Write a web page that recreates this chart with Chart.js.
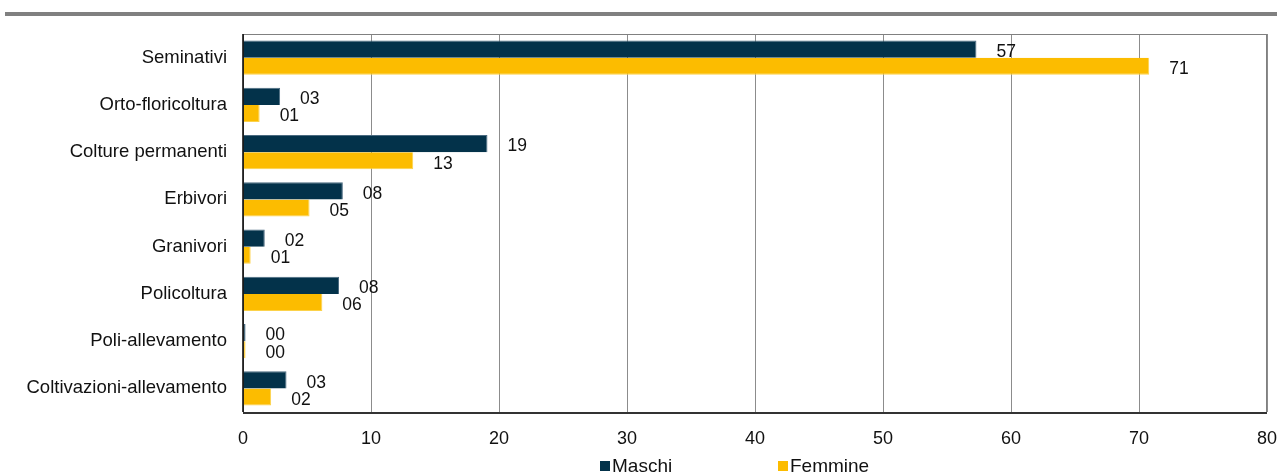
<!DOCTYPE html>
<html>
<head>
<meta charset="utf-8">
<script src="https://cdn.jsdelivr.net/npm/chart.js@4.4.1/dist/chart.umd.min.js"></script>
<style>
    html, body { margin: 0; padding: 0; background: #ffffff; }
    #wrap { position: relative; width: 1277px; height: 475px; }
    #topRule { position: absolute; left: 5px; top: 12px; width: 1272px; height: 4px; background: #808080; }
    #chartBox { position: absolute; left: 0; top: 0; width: 1277px; height: 475px; }
</style>
</head>
<body>
<div id="wrap">
    <div id="topRule"></div>
    <div id="chartBox"><canvas id="farmChart"></canvas></div>
</div>
<script>
// dati
const categories = ['Seminativi', 'Orto-floricoltura', 'Colture permanenti', 'Erbivori', 'Granivori', 'Policoltura', 'Poli-allevamento', 'Coltivazioni-allevamento'];
const maschi = [57.3, 2.9, 19.1, 7.8, 1.7, 7.5, 0.2, 3.4];
const femmine = [70.8, 1.3, 13.3, 5.2, 0.6, 6.2, 0.2, 2.2];
const xTicks = [0, 10, 20, 30, 40, 50, 60, 70, 80];

const FONT = 'Arial, "Liberation Sans", sans-serif';
const NAVY = '#03324a';
const GOLD = '#fcbc00';

// bordo grigio dell'area del grafico
const frameBorder = {
    id: 'frameBorder',
    beforeDatasetsDraw(chart) {
        const { ctx, chartArea: a } = chart;
        ctx.save();
        ctx.strokeStyle = '#808080';
        ctx.lineWidth = 1;
        ctx.strokeRect(a.left + 0.5, a.top + 0.5, a.right - a.left - 1, a.bottom - a.top);
        ctx.restore();
    },
    afterDatasetsDraw(chart) {
        const { ctx, chartArea: a } = chart;
        ctx.save();
        ctx.strokeStyle = '#000000';
        ctx.lineWidth = 1.5;
        ctx.beginPath();
        ctx.moveTo(a.left, a.top);
        ctx.lineTo(a.left, a.bottom);
        ctx.stroke();
        ctx.strokeStyle = '#333333';
        ctx.lineWidth = 2;
        ctx.beginPath();
        ctx.moveTo(a.left, a.bottom + 1);
        ctx.lineTo(a.right, a.bottom + 1);
        ctx.stroke();
        ctx.restore();
    }
};

// etichette dei valori accanto alle barre
const valueLabels = {
    id: 'valueLabels',
    afterDatasetsDraw(chart) {
        const { ctx } = chart;
        ctx.save();
        ctx.font = '17.5px ' + FONT;
        ctx.fillStyle = '#111111';
        ctx.textBaseline = 'middle';
        ctx.textAlign = 'left';
        chart.data.datasets.forEach((ds, i) => {
            chart.getDatasetMeta(i).data.forEach((bar, j) => {
                const txt = String(Math.round(ds.data[j])).padStart(2, '0');
                ctx.fillText(txt, bar.x + 20, bar.y + 3);
            });
        });
        ctx.restore();
    }
};

// legenda in basso
const bottomLegend = {
    id: 'bottomLegend',
    afterDraw(chart) {
        const { ctx } = chart;
        const items = chart.data.datasets;
        const starts = [600, 778];
        ctx.save();
        ctx.font = '19px ' + FONT;
        ctx.textBaseline = 'middle';
        const y = 466;
        items.forEach((d, i) => {
            const x = starts[i];
            ctx.fillStyle = d.backgroundColor;
            ctx.fillRect(x, y - 5, 10, 10);
            ctx.fillStyle = '#111111';
            ctx.fillText(d.label, x + 12, y + 1);
        });
        ctx.restore();
    }
};

new Chart(document.getElementById('farmChart').getContext('2d'), {
    type: 'bar',
    data: {
        labels: categories,
        datasets: [
            {
                label: 'Maschi',
                data: maschi,
                backgroundColor: NAVY,
                borderColor: '#4a6a80',
                borderWidth: { top: 1, right: 1, bottom: 0, left: 0 },
                categoryPercentage: 0.73,
                barPercentage: 1.0
            },
            {
                label: 'Femmine',
                data: femmine,
                backgroundColor: GOLD,
                borderColor: '#fcd24a',
                borderWidth: { top: 0, right: 1, bottom: 1, left: 0 },
                categoryPercentage: 0.73,
                barPercentage: 1.0
            }
        ]
    },
    options: {
        indexAxis: 'y',
        responsive: true,
        maintainAspectRatio: false,
        animation: false,
        layout: { padding: { top: 34, right: 10, bottom: 0, left: 0 } },
        plugins: {
            legend: { display: false },
            tooltip: { enabled: false }
        },
        scales: {
            x: {
                min: 0,
                max: 80,
                afterBuildTicks(scale) {
                    scale.ticks = xTicks.map(v => ({ value: v }));
                },
                afterFit(scale) {
                    scale.height = 63;
                    scale.paddingLeft = 0;
                    scale.paddingRight = 0;
                },
                grid: {
                    color: '#8c8c8c',
                    lineWidth: 1,
                    drawTicks: false
                },
                border: { display: false },
                ticks: {
                    color: '#111111',
                    padding: 16,
                    maxRotation: 0,
                    font: { family: FONT, size: 18 }
                }
            },
            y: {
                afterFit(scale) {
                    scale.width = 243;
                    scale.paddingTop = 0;
                    scale.paddingBottom = 0;
                },
                grid: { display: false, drawTicks: false },
                border: { display: false },
                ticks: {
                    color: '#111111',
                    padding: 16,
                    font: { family: FONT, size: 18.5 }
                }
            }
        }
    },
    plugins: [frameBorder, valueLabels, bottomLegend]
});
</script>
</body>
</html>
